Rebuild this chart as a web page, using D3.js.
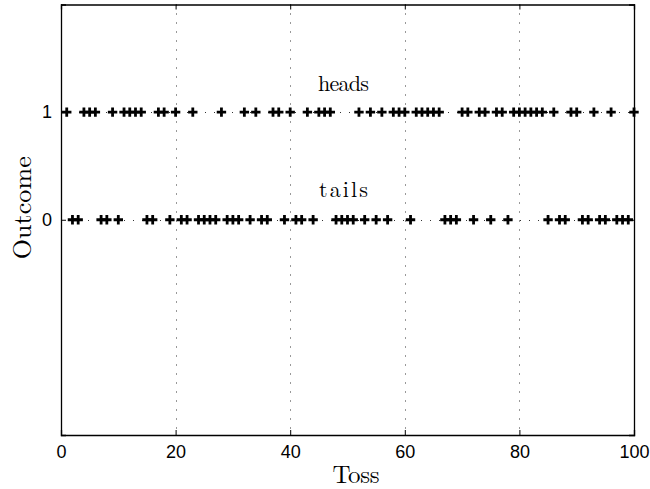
<!DOCTYPE html>
<html><head><meta charset="utf-8">
<script src="https://cdn.jsdelivr.net/npm/d3@7"></script>
<style>html,body{margin:0;padding:0;background:#fff;}svg{display:block;}</style>
</head><body>
<script>
// Data
const headsTosses = [1,4,5,6,9,11,12,13,14,17,18,20,23,28,32,34,37,38,40,43,45,46,47,52,54,56,58,59,60,62,63,64,65,66,70,71,73,74,76,77,79,80,81,82,83,84,86,89,90,93,96,100];
const tossNumbers = d3.range(1, 101);
const outcomes = tossNumbers.map(t => headsTosses.includes(t) ? 1 : 0);
const xTicks = [0,20,40,60,80,100];
const yTicks = [0,1];
const rowLabels = [{text:"heads", toss:49.3, value:1.2}, {text:"tails", toss:49.3, value:0.21}];

const W = 650, H = 489;
const m = {left:61, right:16, top:4.5, bottom:54};
const svg = d3.select("body").append("svg").attr("width", W).attr("height", H);
const x = d3.scaleLinear().domain([0,100]).range([m.left, W - m.right]);
const y = d3.scaleLinear().domain([-2,2]).range([H - m.bottom, m.top]);

// grid
const grid = svg.append("g").attr("stroke", "#333").attr("stroke-width", 1).attr("stroke-dasharray", "1 8");
grid.selectAll("line.vx").data(xTicks.filter(v => v > 0 && v < 100)).join("line")
  .attr("x1", d => Math.round(x(d)) + 0.5).attr("x2", d => Math.round(x(d)) + 0.5)
  .attr("y1", y(2)).attr("y2", y(-2));
grid.selectAll("line.hy").data(yTicks).join("line")
  .attr("x1", x(0)).attr("x2", x(100))
  .attr("y1", d => Math.round(y(d)) + 0.5).attr("y2", d => Math.round(y(d)) + 0.5);

// axes (ticks inward)
const fontTick = "'Liberation Sans', Arial, sans-serif";
const xAxis = svg.append("g").attr("transform", `translate(0,${y(-2)})`)
  .call(d3.axisBottom(x).tickValues(xTicks).tickSize(-5).tickPadding(10).tickFormat(d3.format("d")));
const xAxisTop = svg.append("g").attr("transform", `translate(0,${y(2)})`)
  .call(d3.axisTop(x).tickValues(xTicks).tickSize(-5).tickFormat(""));
const yAxis = svg.append("g").attr("transform", `translate(${x(0)},0)`)
  .call(d3.axisLeft(y).tickValues(yTicks).tickSize(-5).tickPadding(9).tickFormat(d3.format("d")));
const yAxisR = svg.append("g").attr("transform", `translate(${x(100)},0)`)
  .call(d3.axisRight(y).tickValues(yTicks).tickSize(-5).tickFormat(""));
[xAxis, xAxisTop, yAxis, yAxisR].forEach(g => {
  g.select(".domain").attr("stroke", "#000").attr("stroke-width", 1.3);
  g.selectAll(".tick line").attr("stroke", "#000");
  g.selectAll("text").attr("font-family", fontTick).attr("font-size", 18).attr("fill", "#000");
});

// markers
const s = 4.7;
svg.append("g").selectAll("path").data(tossNumbers).join("path")
  .attr("d", (d, i) => {
    const cx = x(d), cy = y(outcomes[i]);
    return `M${cx - s},${cy}H${cx + s}M${cx},${cy - s}V${cy + s}`;
  })
  .attr("stroke", "#000").attr("stroke-width", 2.8).attr("fill", "none");

// labels
const serif = "'Latin Modern Roman','CMU Serif','Liberation Serif','Times New Roman',serif";
svg.append("g").selectAll("text").data(rowLabels).join("text")
  .attr("x", d => x(d.toss)).attr("y", d => y(d.value))
  .attr("text-anchor", "middle").attr("font-family", serif).attr("font-size", 22)
  .attr("textLength", d => d.text === "heads" ? 51 : 49)
  .text(d => d.text);

svg.append("text").attr("x", 356).attr("y", 483)
  .attr("text-anchor", "middle").attr("font-family", serif).attr("font-size", 25)
  .attr("textLength", 47).text("Toss");

svg.append("text").attr("transform", `translate(31,${(y(2) + y(-2)) / 2 - 12}) rotate(-90)`)
  .attr("text-anchor", "middle").attr("font-family", serif).attr("font-size", 26)
  .attr("textLength", 103).text("Outcome");
</script>
</body></html>
